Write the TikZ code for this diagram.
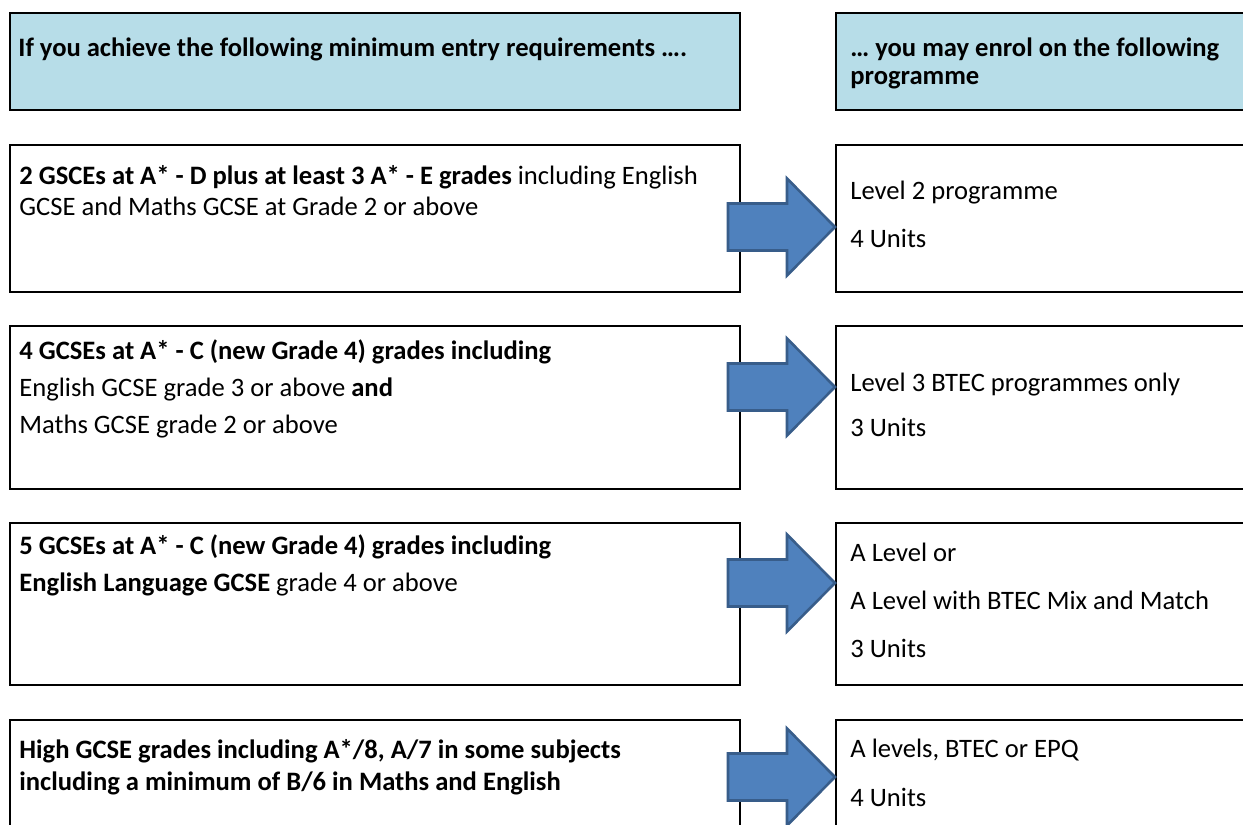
\documentclass[tikz,border=0pt]{standalone}
\usepackage{fontspec}
\setmainfont{Carlito}
\usetikzlibrary{positioning,calc}

\definecolor{headblue}{HTML}{B7DDE8}
\definecolor{arrowblue}{HTML}{4F81BD}
\definecolor{arrowedge}{HTML}{385D8A}

\begin{document}
\begin{tikzpicture}[
    x=0.5pt, y=-0.5pt,
    % define styles
    cell/.style={
        draw=black,
        line width=1pt,
        fill=white,
        anchor=north west,
        inner sep=0pt
    },
    reqcell/.style={cell, minimum width=365pt},
    progcell/.style={cell, minimum width=215pt},
    headcell/.style={fill=headblue},
    txt/.style={
        anchor=mid west,
        inner sep=0pt,
        font=\fontsize{13.3pt}{16pt}\selectfont
    },
    bigarrow/.style={
        fill=arrowblue,
        draw=arrowedge,
        line width=1.3pt,
        line join=miter
    }
]
\useasboundingbox (0,0) rectangle (1243,825);
\clip (0,0) rectangle (1243,825);
\fill[white] (0,0) rectangle (1243,825);

% headings
\node[reqcell, headcell, minimum height=48.5pt] (hdrL) at (9,12) {};
\node[progcell, headcell, minimum height=48.5pt] (hdrR) at (835,12) {};

% left column: entry requirements
\node[reqcell, minimum height=73.5pt] (req1) at (9,144) {};
\node[reqcell, minimum height=81.5pt] (req2) at (9,325) {};
\node[reqcell, minimum height=81pt] (req3) at (9,522) {};
\node[reqcell, minimum height=75pt] (req4) at (9,719) {};

% right column: programmes
\node[progcell, minimum height=73.5pt] (prog1) at (835,144) {};
\node[progcell, minimum height=81.5pt] (prog2) at (835,325) {};
\node[progcell, minimum height=81pt] (prog3) at (835,522) {};
\node[progcell, minimum height=75pt] (prog4) at (835,719) {};

% heading texts
\node[txt] (hdrL-0) at (18,52)
    {\bfseries If you achieve the following minimum entry requirements \dots.};
\foreach \t [count=\i from 0] in {\dots{} you may enrol on the following, programme}
    \node[txt] (hdrR-\i) at (850,{52+28*\i}) {\bfseries\t};

% requirement texts
\foreach \t [count=\i from 0] in {
    {\textbf{2 GSCEs at A* - D plus at least 3 A* - E grades} including English},
    GCSE and Maths GCSE at Grade 2 or above}
    \node[txt] (req1-\i) at (19,{180+31*\i}) {\t};
\foreach \t [count=\i from 0] in {
    \textbf{4 GCSEs at A* - C (new Grade 4) grades including},
    English GCSE grade 3 or above \textbf{and},
    Maths GCSE grade 2 or above}
    \node[txt] (req2-\i) at (19,{355+37*\i}) {\t};
\foreach \t [count=\i from 0] in {
    \textbf{5 GCSEs at A* - C (new Grade 4) grades including},
    \textbf{English Language GCSE} grade 4 or above}
    \node[txt] (req3-\i) at (19,{550+37*\i}) {\t};
\foreach \t [count=\i from 0] in {
    {High GCSE grades including A*/8, A/7 in some subjects},
    including a minimum of B/6 in Maths and English}
    \node[txt] (req4-\i) at (19,{754+32*\i}) {\bfseries\t};

% programme texts
\foreach \t [count=\i from 0] in {Level 2 programme, 4 Units}
    \node[txt] (prog1-\i) at (850,{195+47.5*\i}) {\t};
\foreach \t [count=\i from 0] in {Level 3 BTEC programmes only, 3 Units}
    \node[txt] (prog2-\i) at (850,{387+45*\i}) {\t};
\foreach \t [count=\i from 0] in {A Level or, A Level with BTEC Mix and Match, 3 Units}
    \node[txt] (prog3-\i) at (850,{557+48*\i}) {\t};
\foreach \t [count=\i from 0] in {{A levels, BTEC or EPQ}, 4 Units}
    \node[txt] (prog4-\i) at (850,{753+49*\i}) {\t};

% block arrows from each requirement to its programme
\foreach \r/\dy in {1/83, 2/62, 3/61, 4/58} {
    \coordinate (tip\r) at ($(prog\r.north west)+(0,\dy)$);
    \draw[bigarrow] (tip\r) -- ++(-48,-48.5) -- ++(0,25) -- ++(-59,0)
        -- ++(0,47) -- ++(59,0) -- ++(0,25) -- cycle;
}
\end{tikzpicture}
\end{document}
